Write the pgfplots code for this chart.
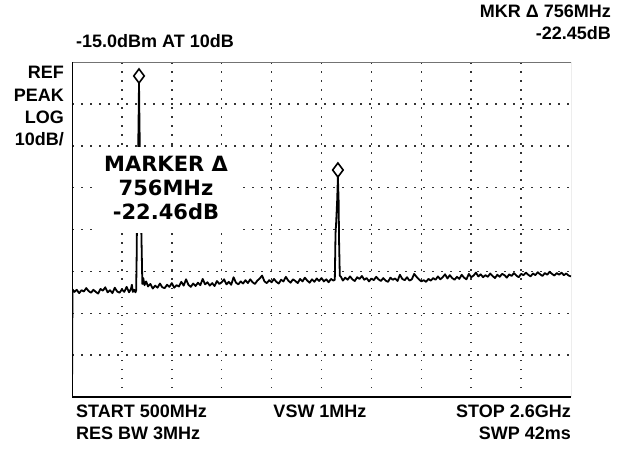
\documentclass[border=0pt]{standalone}
\usepackage{fontspec}
\setmainfont{Liberation Sans}
\newfontfamily\mkfont{DejaVu Sans}
\usepackage{pgfplots}
\pgfplotsset{compat=1.18}
\tikzset{
  lbl/.style={font=\fontsize{18}{20}\selectfont\bfseries, inner sep=0pt},
  mk/.style={font=\mkfont\fontsize{21}{24}\selectfont\bfseries, inner sep=0pt},
}
\begin{document}
\begin{tikzpicture}[x=1pt,y=1pt]
\path[use as bounding box] (0,0) rectangle (630,448);
\begin{axis}[
  at={(72pt,51pt)}, anchor=south west,
  scale only axis, width=499pt, height=335pt,
  xmin=500, xmax=2600, ymin=-95, ymax=-15,
  xtick={710,920,1130,1340,1550,1760,1970,2180,2390},
  ytick={-85,-75,-65,-55,-45,-35,-25},
  xticklabels={}, yticklabels={},
  major tick length=0pt,
  grid=major,
  major grid style={black!80, line width=1.5pt, dash pattern=on 1.5pt off 7.5pt},
  axis line style={draw=none},
]
% frame
\draw[black!55, line width=1pt] (rel axis cs:0,1) -- (rel axis cs:1,1) -- (rel axis cs:1,0);
\draw[black, line width=2.4pt] (rel axis cs:1,0) -- (rel axis cs:0,0) -- (rel axis cs:0,1);
% trace (dBm vs MHz)
\addplot[black, line width=1.8pt, line join=round] coordinates {
(500,-95) (502,-69.3) (510,-69.9) (520,-69.4) (530,-70.2) (540,-69.5) (550,-69.8)
(560,-69.0) (570,-69.7) (580,-70.1) (590,-69.4) (600,-69.9) (610,-70.3) (620,-69.2)
(630,-69.6) (640,-68.8) (650,-70.0) (660,-69.5) (670,-70.2) (680,-68.9) (690,-69.8)
(700,-70.1) (710,-69.3) (720,-69.9) (730,-68.7) (740,-70.0) (748,-69.2) (752,-68.2)
(756,-69.9) (762,-69.4) (767,-70.0)
(770,-69.5) (772,-62) (773,-56) (776,-45) (780,-30) (782,-20) (784,-30) (788,-45)
(792,-56) (794,-62) (796,-68)
(800,-66.6) (805,-68.3) (812,-67.4) (820,-68.6) (830,-68.0) (840,-69.1) (850,-68.4)
(860,-68.9) (870,-67.9) (880,-68.8) (890,-69.0) (900,-68.2) (910,-68.7) (920,-67.8)
(930,-68.9) (940,-68.3) (950,-68.6) (960,-67.5) (970,-68.4) (980,-66.9) (990,-68.2)
(1000,-68.7) (1010,-67.9) (1020,-68.5) (1030,-67.7) (1040,-68.3) (1050,-66.8)
(1060,-68.1) (1070,-67.6) (1080,-68.4) (1090,-67.8) (1100,-68.5) (1110,-67.3)
(1120,-68.0) (1130,-67.6) (1140,-66.9) (1150,-68.1) (1160,-67.5) (1170,-68.2)
(1180,-66.4) (1190,-67.7) (1200,-68.1) (1210,-67.4) (1220,-67.9) (1230,-67.1)
(1240,-67.8) (1250,-66.9) (1260,-67.6) (1270,-68.0) (1280,-67.2) (1290,-66.7)
(1300,-66.0) (1310,-67.4) (1320,-67.8) (1330,-67.1) (1340,-67.6) (1350,-66.8)
(1360,-67.5) (1370,-67.9) (1380,-67.0) (1390,-67.4) (1400,-66.3) (1410,-67.2)
(1420,-67.7) (1430,-66.9) (1440,-67.3) (1450,-67.8) (1460,-66.8) (1470,-67.4)
(1480,-66.5) (1490,-67.2) (1500,-67.7) (1510,-66.9) (1520,-67.5) (1530,-66.7)
(1540,-67.3) (1550,-66.6) (1560,-67.4) (1570,-66.9) (1580,-67.6) (1590,-66.8)
(1600,-67.2)
(1606,-67.0) (1609,-56) (1612,-53) (1616,-48) (1619,-42.46) (1622,-48) (1624,-58)
(1627,-66.0)
(1632,-66.3) (1640,-67.2) (1650,-66.5) (1660,-67.0) (1670,-66.2) (1680,-66.9)
(1690,-67.3) (1700,-66.4) (1710,-66.8) (1720,-66.1) (1730,-67.0) (1740,-66.6)
(1750,-67.4) (1760,-66.7) (1770,-67.1) (1780,-66.3) (1790,-66.9) (1800,-67.3)
(1810,-66.6) (1820,-67.2) (1830,-67.5) (1840,-66.5) (1850,-67.0) (1860,-66.7)
(1870,-67.3) (1880,-65.8) (1890,-66.8) (1900,-67.1) (1910,-66.4) (1920,-67.2)
(1930,-66.9) (1940,-65.6) (1950,-66.3) (1960,-66.9) (1970,-67.4) (1980,-67.1)
(1990,-67.5) (2000,-66.8) (2010,-67.2) (2020,-66.6) (2030,-67.0) (2040,-66.2)
(2050,-66.9) (2060,-66.4) (2070,-65.7) (2080,-66.7) (2090,-65.9) (2100,-66.6)
(2110,-67.0) (2120,-66.3) (2130,-66.8) (2140,-65.8) (2150,-66.5) (2160,-66.9)
(2170,-65.6) (2180,-66.4) (2190,-66.0) (2200,-65.3) (2210,-66.2) (2220,-65.7)
(2230,-66.4) (2240,-65.9) (2250,-66.3) (2260,-65.5) (2270,-66.1) (2280,-66.6)
(2290,-65.8) (2300,-66.3) (2310,-65.6) (2320,-65.9) (2330,-66.5) (2340,-65.7)
(2350,-66.1) (2360,-65.4) (2370,-66.0) (2380,-66.4) (2390,-65.6) (2400,-65.9)
(2410,-65.3) (2420,-65.8) (2430,-66.2) (2440,-65.5) (2450,-65.9) (2460,-65.2)
(2470,-65.7) (2480,-66.1) (2490,-65.4) (2500,-65.8) (2510,-65.1) (2520,-65.6)
(2530,-66.0) (2540,-65.4) (2550,-65.8) (2560,-65.3) (2570,-65.9) (2580,-65.5)
(2590,-66.0) (2600,-66.2)
};
% markers
\addplot[only marks, mark=diamond*, mark size=7pt,
  mark options={solid, draw=black, fill=white, line width=1.6pt, yshift=7pt}]
  coordinates {(782,-20) (1619,-42.46)};
\end{axis}
% marker readout
\fill[white] (97,215) rectangle (237,301);
\node[mk, anchor=base] at (166,276) {MARKER Δ};
\node[mk, anchor=base] at (166,252) {756MHz};
\node[mk, anchor=base] at (166,228) {-22.46dB};
% annotations
\node[lbl, anchor=base east] at (611,430) {MKR Δ 756MHz};
\node[lbl, anchor=base east] at (611,408) {-22.45dB};
\node[lbl, anchor=base west] at (76,400) {-15.0dBm AT 10dB};
\node[lbl, anchor=base east] at (64,369) {REF};
\node[lbl, anchor=base east] at (64,346) {PEAK};
\node[lbl, anchor=base east] at (64,324) {LOG};
\node[lbl, anchor=base east] at (64,302) {10dB/};
\node[lbl, anchor=base west] at (76,31) {START 500MHz};
\node[lbl, anchor=base west] at (76,9) {RES BW 3MHz};
\node[lbl, anchor=base] at (320,31) {VSW 1MHz};
\node[lbl, anchor=base east] at (571,31) {STOP 2.6GHz};
\node[lbl, anchor=base east] at (571,9) {SWP 42ms};
\end{tikzpicture}
\end{document}
